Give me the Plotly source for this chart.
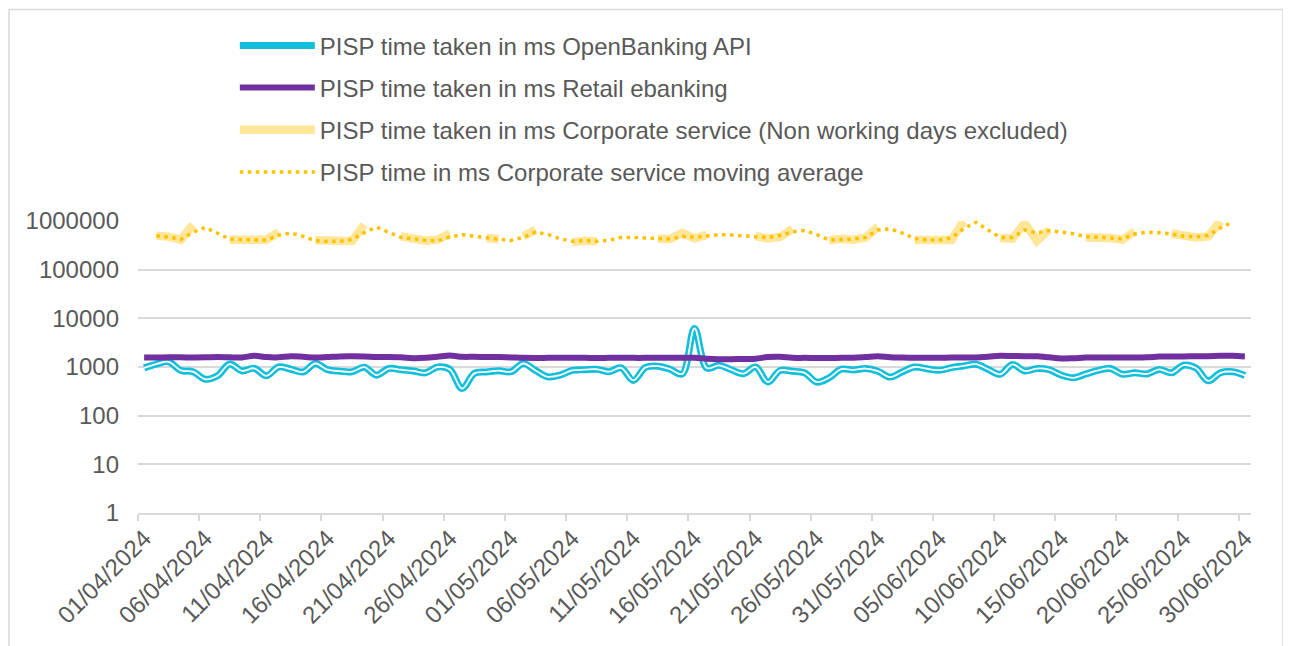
import pandas as pd
import plotly.graph_objects as go

# ---------------- data ----------------
dates = pd.date_range("2024-04-01", "2024-06-30", freq="D")

openbanking_ms = [
    960, 1150, 1280, 850, 800, 560, 660, 1150, 830, 940,
    660, 1000, 900, 790, 1180, 880, 820, 800, 990, 680,
    930, 880, 830, 760, 1000, 890, 360, 740, 790, 840,
    800, 1180, 850, 630, 680, 850, 880, 900, 800, 960,
    530, 980, 1040, 900, 720, 6200, 950, 1080, 880, 730,
    1000, 490, 850, 820, 760, 490, 600, 900, 870, 930,
    820, 620, 800, 1000, 920, 860, 970, 1050, 1140, 900,
    710, 1130, 830, 930, 880, 680, 600, 720, 850, 930,
    710, 760, 720, 890, 760, 1090, 950, 520, 760, 800,
    670,
]

retail_ms = [
    1560, 1560, 1580, 1580, 1570, 1580, 1600, 1580, 1570, 1700,
    1600, 1580, 1660, 1620, 1560, 1600, 1650, 1660, 1640, 1600,
    1600, 1580, 1520, 1540, 1620, 1720, 1620, 1620, 1600, 1600,
    1570, 1540, 1530, 1540, 1550, 1540, 1540, 1530, 1540, 1550,
    1540, 1540, 1550, 1550, 1540, 1540, 1480, 1450, 1450, 1460,
    1480, 1600, 1620, 1540, 1540, 1530, 1530, 1540, 1550, 1600,
    1660, 1580, 1560, 1550, 1550, 1550, 1560, 1570, 1570, 1620,
    1700, 1680, 1660, 1660, 1580, 1500, 1520, 1560, 1560, 1560,
    1560, 1560, 1580, 1640, 1650, 1650, 1660, 1670, 1700, 1700,
    1650,
]

corporate_ms = [
    None, 500000, 478000, 413000, 840000, None, None, 413000, 420000, 420000,
    413000, 590000, None, None, 400000, 388000, 382000, 388000, 840000, None,
    None, 484000, 447000, 393000, 413000, 560000, None, None, 447000, 425000,
    None, 484000, 663000, None, None, 364000, 393000, 382000, None, None,
    None, None, 433000, 425000, 570000, 440000, 520000, None, None, None,
    485000, 440000, 470000, 690000, None, None, 400000, 433000, 413000, 460000,
    760000, None, None, 407000, 407000, 407000, 407000, 990000, None, None,
    447000, 433000, 910000, 393000, 665000, None, None, 460000, 467000, 447000,
    413000, 613000, None, None, 555000, 490000, 460000, 484000, 990000, None,
    None,
]

corporate_moving_avg = [
    None, 495000, 470000, 420000, 590000, 740000, 566000, 425000, 413000, 410000,
    405000, 515000, 566000, 484000, 393000, 382000, 382000, 420000, 575000, 750000,
    590000, 460000, 433000, 400000, 393000, 470000, 524000, 484000, 447000, 420000,
    400000, 460000, 590000, 530000, 433000, 382000, 393000, 382000, 400000, 460000,
    460000, 447000, 433000, 425000, 484000, 460000, 490000, 524000, 515000, 490000,
    460000, 455000, 505000, 600000, 640000, 524000, 407000, 413000, 425000, 460000,
    655000, 694000, 566000, 433000, 407000, 407000, 447000, 694000, 950000, 655000,
    460000, 460000, 655000, 566000, 640000, 590000, 545000, 476000, 460000, 460000,
    433000, 540000, 590000, 575000, 540000, 484000, 470000, 505000, 720000, 950000,
    None,
]

series_names = [
    "PISP time taken in ms OpenBanking API",
    "PISP time taken in ms Retail ebanking",
    "PISP time taken in ms Corporate service (Non working days excluded)",
    "PISP time in ms Corporate service moving average",
]

y_tick_values = [1, 10, 100, 1000, 10000, 100000, 1000000]
y_tick_labels = ["1", "10", "100", "1000", "10000", "100000", "1000000"]

label_dates = list(dates[::5])
x_tick_labels = [d.strftime("%d/%m/%Y") for d in label_dates]
boundary_ticks = [d - pd.Timedelta(hours=12) for d in label_dates]

# ---------------- styles ----------------
TEXT = "#595959"
GRID = "#D9D9D9"
FONT = "Liberation Sans, Arial, sans-serif"
FS = 24

fig = go.Figure()

fig.add_trace(go.Scatter(
    x=dates, y=openbanking_ms, name=series_names[0], mode="lines",
    line=dict(color="#12BFDB", width=7, shape="spline", smoothing=1.0),
    legendgroup="ob",
))
fig.add_trace(go.Scatter(
    x=dates, y=openbanking_ms, name=series_names[0], mode="lines",
    line=dict(color="white", width=1.8, shape="spline", smoothing=1.0),
    legendgroup="ob", showlegend=False, hoverinfo="skip",
))
fig.add_trace(go.Scatter(
    x=dates, y=retail_ms, name=series_names[1], mode="lines",
    line=dict(color="#7030A0", width=6, shape="spline", smoothing=1.0),
    legendgroup="rt",
))
fig.add_trace(go.Scatter(
    x=dates, y=corporate_ms, name=series_names[2], mode="lines",
    line=dict(color="#FFE699", width=8.5),
    connectgaps=False, legendgroup="cs",
))
fig.add_trace(go.Scatter(
    x=dates, y=corporate_moving_avg, name=series_names[3], mode="lines",
    line=dict(color="#FFC000", width=3.5, dash="3.5px,4.5px"),
    legendgroup="ma",
))

fig.update_layout(
    width=1291, height=646,
    margin=dict(l=130, r=48, t=213, b=141),
    paper_bgcolor="white", plot_bgcolor="white",
    font=dict(family=FONT, size=FS, color=TEXT),
    showlegend=True,
    legend=dict(
        x=0.087, y=1.677, xanchor="left", yanchor="top",
        orientation="v", traceorder="grouped", tracegroupgap=8,
        itemwidth=75,
        font=dict(family=FONT, size=FS, color=TEXT),
        bgcolor="rgba(0,0,0,0)",
    ),
    shapes=[dict(
        type="rect", xref="paper", yref="paper",
        x0=(9 - 138) / 1113, x1=(1283 - 138) / 1113,
        y0=(513 - 660) / 292, y1=(513 - 9.5) / 292,
        line=dict(color=GRID, width=1.5), fillcolor="rgba(0,0,0,0)",
        layer="below",
    )],
)

fig.update_xaxes(
    type="date",
    range=[dates[0] - pd.Timedelta(hours=12), dates[-1] + pd.Timedelta(hours=12)],
    tickmode="array", tickvals=label_dates, ticktext=x_tick_labels,
    tickangle=-45, ticks="",
    tickfont=dict(family=FONT, size=FS, color=TEXT),
    showgrid=False, zeroline=False,
    showline=True, linecolor=GRID, linewidth=1.5,
    minor=dict(tickmode="array", tickvals=boundary_ticks, ticks="outside",
               ticklen=6, tickcolor=GRID, tickwidth=1.5, showgrid=False),
)

fig.update_yaxes(
    type="log", range=[0, 6],
    tickmode="array", tickvals=y_tick_values, ticktext=y_tick_labels,
    tickfont=dict(family=FONT, size=FS, color=TEXT),
    showgrid=True, gridcolor=GRID, gridwidth=1.5,
    zeroline=False, showline=False, ticks="",
    ticklabelstandoff=18,
)

fig.write_html("out.html")
